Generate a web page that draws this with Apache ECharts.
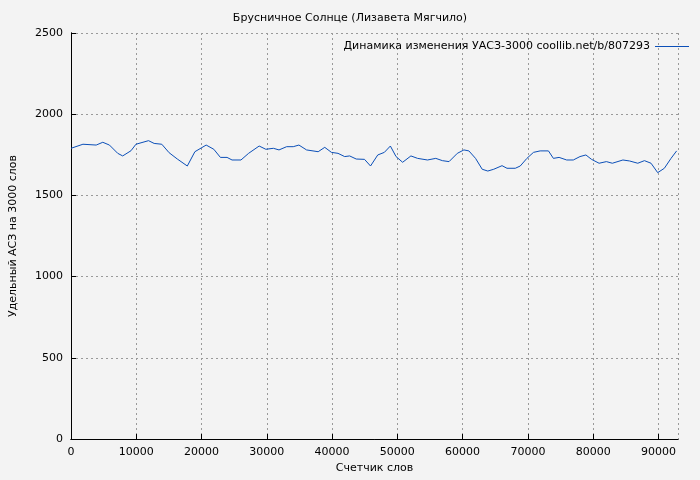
<!DOCTYPE html>
<html>
<head>
<meta charset="utf-8">
<script src="https://cdn.jsdelivr.net/npm/echarts@6/dist/echarts.min.js"></script>
<style>html,body{margin:0;padding:0;background:#f3f3f3}#main{width:700px;height:480px}</style>
</head>
<body>
<div id="main"></div>
<script>
var words = [0,1830,3860,4870,5890,7160,7920,9190,9950,11880,12740,13910,15030,16290,17820,18980,20710,21880,22890,23910,24670,26040,27210,28830,29850,31010,31870,33040,34050,34920,36090,37870,38880,39900,40910,41930,42690,43700,44970,45890,47000,48010,48930,49800,50810,52080,53100,54620,55890,56900,57920,59190,60200,60960,61980,63000,63860,64770,66040,66800,68070,68830,69850,70860,71880,73150,73910,74780,75950,76960,77980,78890,79750,80910,82030,82940,84560,85580,86840,87860,88870,89890,90910,91930,92790];
var asz = [1790,1815,1810,1827,1810,1759,1743,1775,1815,1837,1820,1815,1763,1724,1681,1769,1810,1784,1734,1734,1718,1718,1759,1804,1784,1790,1780,1800,1800,1810,1780,1769,1796,1765,1759,1739,1743,1724,1722,1681,1749,1765,1804,1739,1704,1743,1728,1718,1728,1714,1708,1759,1780,1774,1728,1661,1650,1661,1683,1667,1667,1681,1728,1765,1774,1774,1728,1734,1718,1718,1739,1749,1722,1698,1708,1698,1718,1712,1698,1714,1698,1640,1667,1728,1774];
var data = words.map(function (w, i) { return [w, asz[i]]; });

var chart = echarts.init(document.getElementById('main'));
var font = 'DejaVu Sans';
var plain = function (v) { return String(v); };
var frame = {
    show: true, axisLine: {show: true, lineStyle: {color: '#000'}},
    axisTick: {show: false}, axisLabel: {show: false}, splitLine: {show: false}
};
chart.setOption({
    backgroundColor: '#f3f3f3',
    animation: false,
    textStyle: {fontFamily: font},
    title: {
        text: 'Брусничное Солнце (Лизавета Мягчило)',
        left: 'center', top: 8,
        textStyle: {fontSize: 11, fontWeight: 'normal', color: '#000', fontFamily: font}
    },
    legend: {
        data: ['Динамика изменения УАСЗ-3000 coollib.net/b/807293'],
        right: 6, top: 36, align: 'right',
        itemWidth: 34, itemHeight: 1, itemGap: 8,
        icon: 'rect',
        textStyle: {fontSize: 11, color: '#000', fontFamily: font}
    },
    grid: {left: 67, right: 22, top: 33, bottom: 41},
    xAxis: [{
        type: 'value', min: 0, max: 93000, interval: 10000,
        name: 'Счетчик слов', nameLocation: 'middle', nameGap: 24,
        nameTextStyle: {fontSize: 11, color: '#000'},
        axisLine: {show: true, lineStyle: {color: '#000'}},
        axisTick: {inside: true, lineStyle: {color: '#000'}},
        axisLabel: {fontSize: 11, color: '#000', showMaxLabel: false, formatter: plain},
        splitLine: {lineStyle: {color: '#999', type: [2, 3]}}
    }, Object.assign({type: 'value', position: 'top', min: 0, max: 93000}, frame)],
    yAxis: [{
        type: 'value', min: 0, max: 2500, interval: 500,
        name: 'Удельный АСЗ на 3000 слов', nameLocation: 'middle', nameGap: 52,
        nameTextStyle: {fontSize: 11, color: '#000'},
        axisLine: {show: true, lineStyle: {color: '#000'}},
        axisTick: {inside: true, lineStyle: {color: '#000'}},
        axisLabel: {fontSize: 11, color: '#000', formatter: plain},
        splitLine: {lineStyle: {color: '#999', type: [2, 3]}}
    }, Object.assign({type: 'value', position: 'right', min: 0, max: 2500}, frame)],
    series: [{
        name: 'Динамика изменения УАСЗ-3000 coollib.net/b/807293',
        type: 'line', data: data, showSymbol: false,
        lineStyle: {color: '#0b4fb8', width: 1},
        itemStyle: {color: '#0b4fb8'}
    }]
});
</script>
</body>
</html>
